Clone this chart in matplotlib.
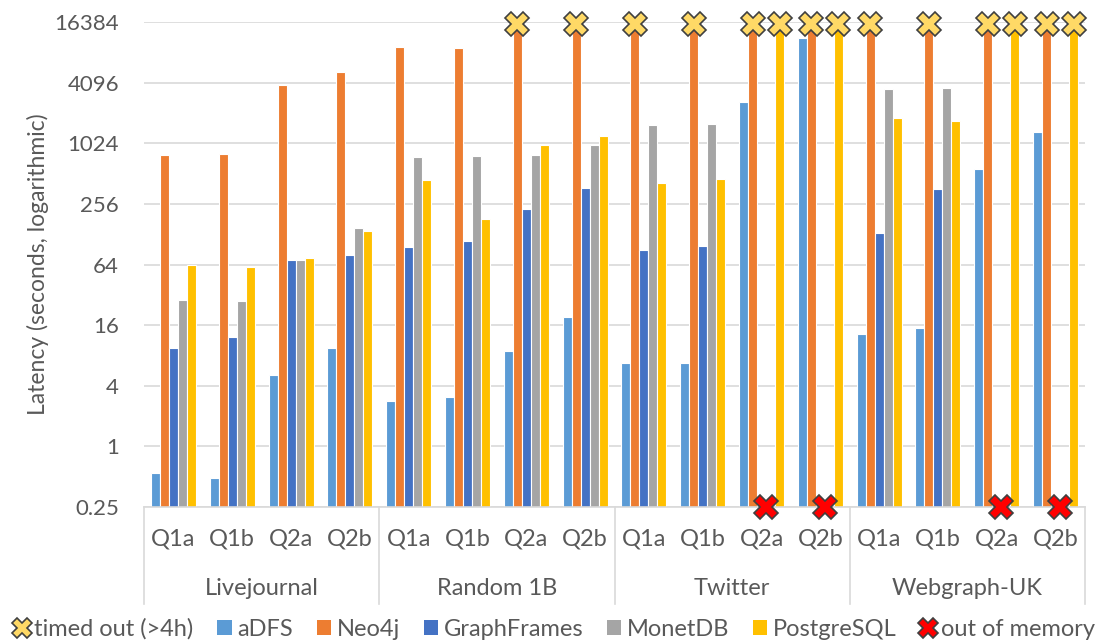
import numpy as np
import matplotlib
matplotlib.use("Agg")
import matplotlib.pyplot as plt
from matplotlib.lines import Line2D
from matplotlib.patches import Patch

plt.rcParams['font.family'] = ['Lato', 'DejaVu Sans']

datasets = ["Livejournal", "Random 1B", "Twitter", "Webgraph-UK"]
queries = ["Q1a", "Q1b", "Q2a", "Q2b"]
systems = ["aDFS", "Neo4j", "GraphFrames", "MonetDB", "PostgreSQL"]
colors = ["#5B9BD5", "#ED7D31", "#4472C4", "#A5A5A5", "#FFC000"]

T = 14400    # timed out (4h)
M = np.nan   # out of memory

adfs = [0.54, 0.49, 5.1, 9.6, 2.8, 3.1, 8.8, 19.3, 6.7, 6.8, 2660, 11350, 13.1, 15.1, 572, 1335]
neo4j = [780, 797, 3870, 5220, 9300, 9150, T, T, T, T, T, T, T, T, T, T]
graphframes = [9.4, 12.2, 70.5, 79, 96, 109, 231, 370, 88.6, 98, M, M, 131, 359, M, M]
monetdb = [28.2, 27.6, 72, 147, 754, 776, 782, 1000, 1580, 1590, M, M, 3530, 3640, M, M]
postgresql = [63, 60.5, 74.5, 138, 449, 183, 990, 1220, 419, 458, T, T, 1820, 1700, T, T]
series = [adfs, neo4j, graphframes, monetdb, postgresql]

yticks = [0.25, 1, 4, 16, 64, 256, 1024, 4096, 16384]
ytick_labels = ["0.25", "1", "4", "16", "64", "256", "1024", "4096", "16384"]
timeout_mark = 15600
text_color = "#595959"
grid_color = "#D9D9D9"

fig = plt.figure(figsize=(11.09, 6.43), dpi=100)
ax = fig.add_axes([144 / 1109, 1 - 507 / 643, (1085 - 144) / 1109, (507 - 22.3) / 643])

n = len(datasets) * len(queries)
x = np.arange(n)
w = 0.153

for i, (vals, c) in enumerate(zip(series, colors)):
    vals = np.array(vals, dtype=float)
    ax.bar(x + (i - 2) * w, np.nan_to_num(vals, nan=0.0), width=w, color=c,
           edgecolor="white", linewidth=0.8, zorder=2)
    # timed-out markers
    to = vals == T
    ax.plot(x[to] + (i - 2) * w, [timeout_mark] * to.sum(), linestyle="none",
            marker="X", ms=17, mfc="#FFD966", mec="#404040", mew=1.2,
            zorder=4, clip_on=False)

# out of memory markers (GraphFrames and MonetDB)
oom = np.isnan(np.array(graphframes, dtype=float))
ax.plot(x[oom] + 0.5 * w, [0.25] * oom.sum(), linestyle="none", marker="X",
        ms=17, mfc="#FF0000", mec="#404040", mew=1.2, zorder=5, clip_on=False)

ax.set_yscale("log", base=2)
ax.set_ylim(0.25, 16384)
ax.set_xlim(-0.5, n - 0.5)
ax.set_yticks(yticks)
ax.set_yticklabels(ytick_labels)
ax.minorticks_off()
ax.tick_params(axis="y", length=0, pad=18, labelsize=16, labelcolor=text_color)
ax.set_xticks([])
ax.yaxis.grid(True, color=grid_color, linewidth=1.2, zorder=0)
ax.set_axisbelow(True)
for s in ["top", "right", "left"]:
    ax.spines[s].set_visible(False)
ax.spines["bottom"].set_color(grid_color)
ax.spines["bottom"].set_linewidth(1.2)

ax.set_ylabel("Latency (seconds, logarithmic)", fontsize=16.5, color=text_color)
ax.yaxis.set_label_coords(-0.101, 0.5)

# two-level category axis
trans = ax.get_xaxis_transform()
for k in range(n):
    ax.text(x[k], -0.066, queries[k % 4], transform=trans, ha="center", va="center",
            fontsize=17, color=text_color)
for d, name in enumerate(datasets):
    ax.text(d * 4 + 1.5, -0.168, name, transform=trans, ha="center", va="center",
            fontsize=17, color=text_color)
for b in range(len(datasets) + 1):
    ax.plot([b * 4 - 0.5, b * 4 - 0.5], [0, -0.2], transform=trans, color=grid_color,
            linewidth=1.2, clip_on=False)

handles = [Line2D([], [], linestyle="none", marker="X", ms=15, mfc="#FFD966",
                  mec="#404040", mew=1.2)]
handles += [Patch(facecolor=c) for c in colors]
handles += [Line2D([], [], linestyle="none", marker="X", ms=15, mfc="#FF0000",
                   mec="#404040", mew=1.2)]
labels = ["timed out (>4h)"] + systems + ["out of memory"]
fig.legend(handles, labels, loc="center", bbox_to_anchor=(0.5, 1 - 629 / 643), ncol=7,
           frameon=False, fontsize=17, handlelength=0.6, handleheight=0.6,
           handletextpad=0.25, columnspacing=1.0, labelcolor=text_color)

fig.savefig("out.png", dpi=100)
